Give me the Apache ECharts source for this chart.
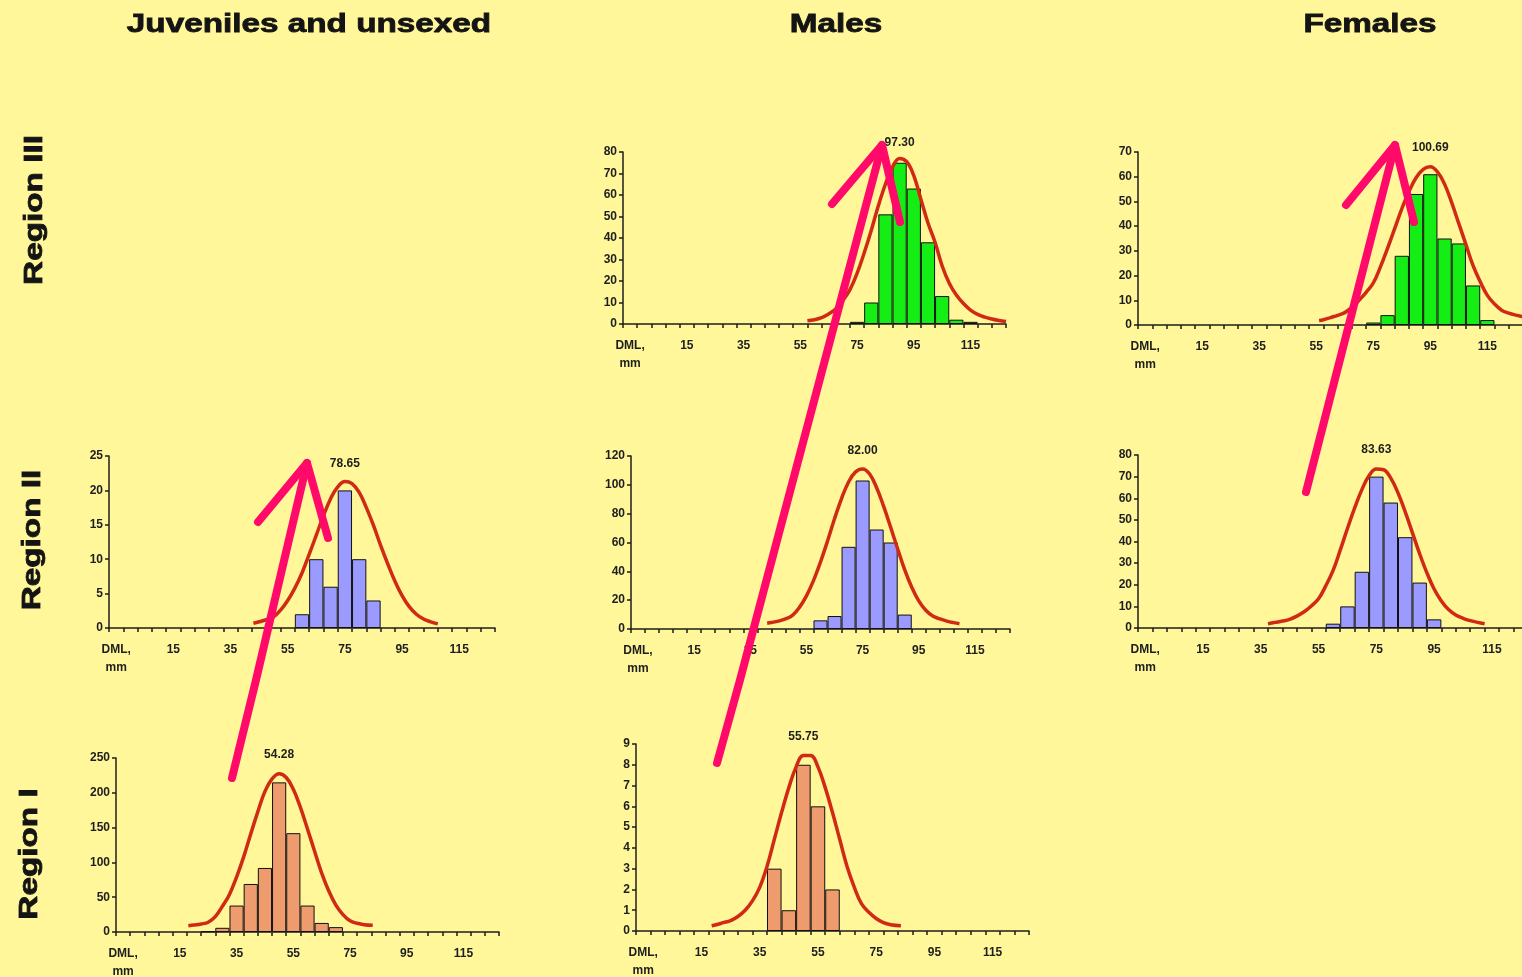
<!DOCTYPE html>
<html><head><meta charset="utf-8">
<script src="https://cdn.jsdelivr.net/npm/echarts@6/dist/echarts.min.js"></script>
<style>html,body{margin:0;padding:0;background:#FFF799;overflow:hidden}#c{width:1522px;height:977px}</style>
</head><body><div id="c"></div>
<script>
// ---------- DATA ----------
const binLabels = ['DML,\nmm','0','5','10','15','20','25','30','35','40','45','50','55','60','65','70','75','80','85','90','95','100','105','110','115','120','125'];
const columnTitles = ['Juveniles and unsexed', 'Males', 'Females'];
const rowTitles = ['Region III', 'Region II', 'Region I'];

// bar counts: [DML bin, count]
const r3MalesCounts   = [['75',1],['80',10],['85',51],['90',75],['95',63],['100',38],['105',13],['110',2],['115',1]];
const r3FemalesCounts = [['75',1],['80',4],['85',28],['90',53],['95',61],['100',35],['105',33],['110',16],['115',2]];
const r2JuvCounts     = [['60',2],['65',10],['70',6],['75',20],['80',10],['85',4]];
const r2MalesCounts   = [['60',6],['65',9],['70',57],['75',103],['80',69],['85',60],['90',10]];
const r2FemalesCounts = [['60',2],['65',10],['70',26],['75',70],['80',58],['85',42],['90',21],['95',4]];
const r1JuvCounts     = [['25',1],['30',6],['35',38],['40',69],['45',92],['50',215],['55',142],['60',38],['65',13],['70',7]];
const r1MalesCounts   = [['40',3],['45',1],['50',8],['55',6],['60',2]];

// fitted curves: [DML mm, count]
const r3MalesCurve   = [[57.5,1.5],[60,2],[62.5,3],[65,4.7],[67.5,7],[70,11],[72.5,16],[75,23.5],[77.5,33],[80,43.5],[82.5,55],[85,65],[87.5,73],[90,77],[92.5,75.5],[95,69],[97.5,58],[100,47],[102.5,38],[105,27],[107.5,19],[110,13.5],[112.5,9.5],[115,6.5],[117.5,4.5],[120,3.2],[122.5,2.3],[125,1.6],[127.5,1.2]];
const r3FemalesCurve = [[56,1.8],[57.5,2.1],[60,3],[62.5,3.9],[65,5],[67.5,7.2],[70,10],[72.5,13.2],[75,17],[77.5,23.5],[80,31],[82.5,39],[85,47],[87.5,54],[90,59.6],[92.5,63],[95,64],[97.5,62],[100,57],[102.5,49.5],[105,41],[107.5,32.5],[110,24],[112.5,17.5],[115,12],[117.5,8.5],[120,6],[122.5,4.8],[125,4],[127.5,3.4]];
const r2JuvCurve     = [[43,0.7],[45,0.9],[47.5,1.2],[50,1.6],[52.5,2.6],[55,4],[57.5,5.8],[60,8],[62.5,10.7],[65,13.5],[67.5,16.3],[70,18.8],[72.5,20.5],[75,21.3],[77.5,21],[80,19.7],[82.5,17.5],[85,14.9],[87.5,12],[90,9.3],[92.5,6.8],[95,4.7],[97.5,3.1],[100,2],[102.5,1.3],[105,0.9],[107.5,0.6]];
const r2MalesCurve   = [[41,4],[42.5,4.5],[45,5.5],[47.5,7],[50,9.5],[52.5,15],[55,23],[57.5,33.5],[60,46.5],[62.5,61],[65,76.5],[67.5,90.5],[70,102],[72.5,109],[75,111],[77.5,107.5],[80,98],[82.5,85],[85,70.5],[87.5,55.5],[90,41],[92.5,29],[95,19.5],[97.5,13],[100,9],[102.5,7],[105,5.5],[107.5,4.4],[109.5,3.7]];
const r2FemalesCurve = [[37.5,2],[40,2.6],[42.5,3.2],[45,4],[47.5,5.5],[50,7.5],[52.5,10.2],[55,13.5],[57.5,19.5],[60,26.5],[62.5,36],[65,46],[67.5,55.5],[70,64],[72.5,70.5],[75,73.5],[77.5,73.2],[80,69.3],[82.5,62.5],[85,53.7],[87.5,44],[90,34.3],[92.5,25.5],[95,18],[97.5,12.5],[100,8.5],[102.5,6],[105,4.5],[107.5,3.4],[110,2.6],[112.5,2]];
const r1JuvCurve     = [[18,9],[20,10],[22.5,11.5],[25,14],[27.5,22],[30,37],[32.5,54],[35,79],[37.5,108],[40,141],[42.5,173],[45,202],[47.5,220],[50,227.5],[52.5,222],[55,205],[57.5,179],[60,148],[62.5,116],[65,84.6],[67.5,59],[70,38.6],[72.5,25],[75,16],[77.5,12.5],[80,10.5],[83,9.6]];
const r1MalesCurve   = [[18.5,0.25],[20,0.3],[22.5,0.4],[25,0.5],[27.5,0.7],[30,1.0],[32.5,1.45],[35,2.1],[37.5,3.1],[40,4.4],[42.5,5.7],[45,6.9],[47.5,7.9],[50,8.45],[52.5,8.45],[55,7.9],[57.5,6.9],[60,5.7],[62.5,4.4],[65,3.1],[67.5,2.1],[70,1.3],[72.5,0.9],[75,0.6],[77.5,0.4],[80,0.3],[83.5,0.25]];

const meanR3Males = '97.30', meanR3Females = '100.69', meanR2Juv = '78.65', meanR2Males = '82.00',
      meanR2Females = '83.63', meanR1Juv = '54.28', meanR1Males = '55.75';

// ---------- STYLE / LAYOUT ----------
const FONT = '"Liberation Sans", Arial, sans-serif';
const GREEN = '#14EE14', BLUE = '#9A9AFF', ORANGE = '#EE9C6E', RED = '#D02A14', INK = '#1E1E1E', PINK = '#FF0A6A';

const panels = [
  {counts:r3MalesCounts,   curve:r3MalesCurve,   mean:meanR3Males,   yMax:80,  yStep:10, color:GREEN,  box:{left:623, top:152, width:383, height:172}, lblDy:16},
  {counts:r3FemalesCounts, curve:r3FemalesCurve, mean:meanR3Females, yMax:70,  yStep:10, color:GREEN,  box:{left:1138,top:152, width:385, height:173}, lblDy:19},
  {counts:r2JuvCounts,     curve:r2JuvCurve,     mean:meanR2Juv,     yMax:25,  yStep:5,  color:BLUE,   box:{left:109, top:456, width:386, height:172}, lblDy:18},
  {counts:r2MalesCounts,   curve:r2MalesCurve,   mean:meanR2Males,   yMax:120, yStep:20, color:BLUE,   box:{left:631, top:456, width:379, height:173}, lblDy:18},
  {counts:r2FemalesCounts, curve:r2FemalesCurve, mean:meanR2Females, yMax:80,  yStep:10, color:BLUE,   box:{left:1138,top:455, width:390, height:173}, lblDy:19},
  {counts:r1JuvCounts,     curve:r1JuvCurve,     mean:meanR1Juv,     yMax:250, yStep:50, color:ORANGE, box:{left:116, top:758, width:383, height:174}, lblDy:19},
  {counts:r1MalesCounts,   curve:r1MalesCurve,   mean:meanR1Males,   yMax:9,   yStep:1,  color:ORANGE, box:{left:636, top:744, width:393, height:187}, lblDy:19}
];

const grid = [], xAxis = [], yAxis = [], series = [];
const axisLineStyle = {color: INK, width: 1.5};
panels.forEach((p, i) => {
  grid.push(Object.assign({containLabel:false, outerBoundsMode:'none'}, p.box));
  xAxis.push({
    type:'category', gridIndex:i, data:binLabels, boundaryGap:true,
    axisLine:{show:true, onZero:false, lineStyle:axisLineStyle},
    axisTick:{show:true, interval:0, length:4, lineStyle:axisLineStyle},
    axisLabel:{interval:3, color:INK, fontWeight:'bold', fontSize:12, fontFamily:FONT, margin:13, lineHeight:18},
    splitLine:{show:false}
  });
  xAxis.push({type:'value', gridIndex:i, min:-7.5, max:127.5, show:false, splitLine:{show:false}, axisLine:{onZero:false}});
  yAxis.push({
    type:'value', gridIndex:i, min:0, max:p.yMax, interval:p.yStep,
    axisLine:{show:true, onZero:false, lineStyle:axisLineStyle},
    axisTick:{show:true, length:4, lineStyle:axisLineStyle},
    axisLabel:{color:INK, fontWeight:'bold', fontSize:12, fontFamily:FONT, margin:6},
    splitLine:{show:false}
  });
  series.push({
    type:'bar', xAxisIndex:2*i, yAxisIndex:i, data:p.counts, barWidth:'100%', barCategoryGap:'0%',
    itemStyle:{color:p.color, borderColor:'#111', borderWidth:1}, silent:true
  });
  let peak = p.curve[0];
  p.curve.forEach(d => { if (d[1] > peak[1]) peak = d; });
  series.push({
    type:'line', xAxisIndex:2*i+1, yAxisIndex:i, data:p.curve, smooth:0.4, symbol:'none',
    lineStyle:{color:RED, width:3.5}, silent:true, z:3,
    markPoint:{
      symbol:'circle', symbolSize:1, itemStyle:{color:'rgba(0,0,0,0)'},
      data:[{coord:peak, value:p.mean}],
      label:{show:true, position:'inside', offset:[0,-p.lblDy], formatter:p.mean, color:INK,
             fontWeight:'bold', fontSize:12, fontFamily:FONT}
    }
  });
});

const graphic = [];
const titleX = [309, 836, 1370];
columnTitles.forEach((t, i) => graphic.push({
  type:'text', x:titleX[i], y:25, scaleX:1.28, z:50,
  style:{text:t, fontSize:26, fontWeight:'bold', fontFamily:FONT, fill:'#141414', stroke:'#141414', lineWidth:0.8,
         align:'center', verticalAlign:'middle', textAlign:'center', textVerticalAlign:'middle'}
}));
const rowX = [35, 33, 30], rowY = [210, 540, 854];
rowTitles.forEach((t, i) => graphic.push({
  type:'text', x:rowX[i], y:rowY[i], rotation:Math.PI/2, scaleX:1.28, z:50,
  style:{text:t, fontSize:26, fontWeight:'bold', fontFamily:FONT, fill:'#141414', stroke:'#141414', lineWidth:0.8,
         align:'center', verticalAlign:'middle', textAlign:'center', textVerticalAlign:'middle'}
}));
// hand-drawn annotation arrows
const arrows = [
  {shaft:[[232,778],[256,680],[307,463]], head:[[258,522],[307,463],[328,538]]},
  {shaft:[[717,763],[740,680],[882,145]], head:[[832,204],[882,145],[900,222]]},
  {shaft:[[1306,492],[1395,145]], head:[[1346,205],[1395,145],[1414,222]]}
];
arrows.forEach(a => {
  [a.shaft, a.head].forEach(pts => graphic.push({
    type:'polyline', z:100, shape:{points:pts},
    style:{stroke:PINK, lineWidth:8, lineCap:'round', lineJoin:'round', fill:null}
  }));
});

const chart = echarts.init(document.getElementById('c'), null, {renderer:'canvas'});
chart.setOption({
  backgroundColor:'#FFF799', animation:false,
  grid, xAxis, yAxis, series, graphic
});
</script>
</body></html>
